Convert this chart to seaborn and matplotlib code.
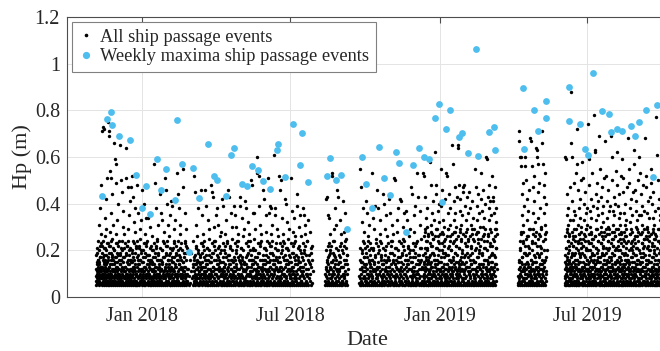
import matplotlib
matplotlib.use("Agg")
import matplotlib.pyplot as plt
from matplotlib.lines import Line2D
from matplotlib.ticker import FuncFormatter
import pandas as pd
import seaborn as sns

# ---------------- data ----------------
# Weekly maxima (blue)
max_dates = [
    "2017-11-12", "2017-11-18", "2017-11-23", "2017-11-25", "2017-12-03", "2017-12-17",
    "2017-12-24", "2017-12-31", "2018-01-06", "2018-01-10", "2018-01-19", "2018-01-24",
    "2018-01-30", "2018-02-10", "2018-02-12", "2018-02-19", "2018-02-27", "2018-03-04",
    "2018-03-12", "2018-03-22", "2018-03-30", "2018-04-02", "2018-04-13", "2018-04-20",
    "2018-04-23", "2018-05-03", "2018-05-09", "2018-05-16", "2018-05-23", "2018-05-29",
    "2018-06-06", "2018-06-15", "2018-06-17", "2018-06-25", "2018-07-05", "2018-07-14",
    "2018-07-16", "2018-07-23", "2018-08-16", "2018-08-19", "2018-08-26", "2018-09-02",
    "2018-09-09", "2018-09-28", "2018-10-03", "2018-10-10", "2018-10-18", "2018-10-25",
    "2018-11-01", "2018-11-08", "2018-11-12", "2018-11-21", "2018-11-29", "2018-12-06",
    "2018-12-13", "2018-12-19", "2018-12-26", "2018-12-31", "2019-01-04", "2019-01-09",
    "2019-01-14", "2019-01-25", "2019-01-28", "2019-02-04", "2019-02-15", "2019-02-17",
    "2019-03-02", "2019-03-08", "2019-03-10", "2019-04-13", "2019-04-14", "2019-04-26",
    "2019-05-02", "2019-05-11", "2019-05-11", "2019-06-08", "2019-06-09", "2019-06-22",
    "2019-06-28", "2019-07-02", "2019-07-08", "2019-07-19", "2019-07-27", "2019-07-30",
    "2019-08-07", "2019-08-13", "2019-08-24", "2019-08-28", "2019-09-03", "2019-09-11",
    "2019-09-20", "2019-09-24",
]
max_hp = [
    0.434, 0.764, 0.793, 0.739, 0.690, 0.673,
    0.522, 0.383, 0.476, 0.356, 0.590, 0.457,
    0.549, 0.416, 0.759, 0.570, 0.193, 0.554,
    0.426, 0.657, 0.520, 0.501, 0.433, 0.609,
    0.640, 0.484, 0.476, 0.561, 0.544, 0.498,
    0.464, 0.630, 0.656, 0.514, 0.740, 0.567,
    0.702, 0.494, 0.517, 0.597, 0.500, 0.523,
    0.290, 0.600, 0.484, 0.383, 0.644, 0.512,
    0.439, 0.623, 0.576, 0.279, 0.566, 0.639,
    0.601, 0.593, 0.767, 0.829, 0.407, 0.720,
    0.800, 0.684, 0.702, 0.616, 1.064, 0.603,
    0.707, 0.727, 0.630, 0.896, 0.634, 0.803,
    0.710, 0.839, 0.769, 0.754, 0.899, 0.743,
    0.634, 0.609, 0.961, 0.797, 0.783, 0.707,
    0.719, 0.710, 0.734, 0.689, 0.750, 0.800,
    0.513, 0.822,
]

# All ship passage events: one string per week (Hp in cm), per recording segment
seg1_start = "2017-11-05"
seg1_weeks = [
    "07 12 05 18 09 15 08 14 11 06 19 21 10 13 07 16 24 09 06 12 16 11 08 20 31 05 10 15 14 07 22 11 09 12 06 17 38 17 08 23 48 11 27 13 06 09 13 19",
    "06 10 08 22 13 05 71 10 09 17 07 24 12 73 06 16 11 21 08 18 15 05 72 14 09 26 07 21 13 34 10 16 06 18 42 12 08 11 29 20 05 14 09 15 51 07 23 11 12",
    "09 05 12 17 07 75 10 23 16 06 71 13 08 13 22 19 05 69 11 22 07 28 09 10 54 14 06 24 19 10 36 16 08 51 05 18 12 25 07 14 17 09 44 21 11 06 31 16",
    "07 11 05 12 09 66 14 20 08 20 06 15 12 59 10 11 17 07 05 17 57 13 09 23 27 06 49 13 11 15 08 19 33 05 23 22 10 07 40 10 12 06 18 24 09",
    "05 08 12 16 06 10 65 18 14 07 19 14 09 11 05 21 50 16 08 16 24 06 13 12 45 07 10 20 30 05 17 15 09 37 12 11 06 21 08 17 27 11",
    "08 06 11 23 05 13 09 13 64 07 18 19 10 06 51 22 15 08 22 10 05 12 47 24 09 29 07 16 14 06 35 18 11 20 08 14 05 41 10 21 16 07",
    "06 09 12 16 05 47 08 12 15 07 11 20 52 06 19 15 09 13 05 11 43 10 24 17 07 16 06 23 32 08 12 13 05 28 11 19 38 07 14 22 09 21",
    "05 10 07 10 13 06 48 24 09 17 05 16 11 08 36 18 14 06 22 14 09 12 05 21 29 07 16 16 10 06 25 12 08 19 11 20 33 07",
    "07 05 12 15 09 46 06 11 15 10 08 17 20 05 13 23 40 07 11 13 27 06 17 19 09 05 23 22 12 08 34 10 06 14 10 24 18",
    "06 09 05 16 11 07 34 18 13 08 18 14 06 10 05 21 30 15 09 16 12 07 22 12 05 16 08 20 26 11 06 15 14 07 20 11 09",
    "05 08 12 17 06 57 10 23 14 07 49 13 09 17 05 19 11 21 08 22 06 38 13 10 07 25 10 24 05 16 09 16 31 06 12 18 19 08",
    "07 10 05 14 13 08 44 21 06 11 16 16 09 05 36 12 12 07 20 20 06 14 33 15 08 10 24 11 05 17 09 17 28 06 11 23",
    "06 09 12 13 05 51 08 19 14 07 46 22 10 18 06 10 11 40 05 24 22 09 13 16 07 31 16 18 06 26 10 14 08 12 35 21 05 19",
    "05 08 11 16 06 41 13 12 09 07 17 20 05 39 10 15 12 06 21 11 08 15 05 17 29 11 07 23 24 09 14 13 06 33 10 19 18",
    "07 05 10 22 13 06 53 10 09 16 08 24 11 44 05 16 20 07 12 18 38 06 14 14 09 27 05 21 17 10 31 16 08 23 06 12 13",
    "06 10 05 20 08 12 55 15 07 15 09 11 47 06 11 17 19 05 13 23 08 36 10 13 24 07 16 19 05 29 09 22 12 21 06 10",
    "07 12 05 09 16 06 11 19 08 14",
    "05 09 13 24 07 52 06 16 11 17 08 18 45 10 05 14 22 14 07 21 31 09 12 16 06 26 15 12 08 38 05 20 19 10 13 15",
    "08 06 11 11 05 14 09 17 42 07 18 23 12 06 46 13 10 05 23 19 08 15 35 22 07 13 27 10 06 17 09 24 11 20",
    "06 10 05 16 13 08 46 18 07 16 11 14 39 05 09 21 21 06 14 16 08 33 12 12 05 25 10 20 18 07 29 15 09 15",
    "05 08 12 11 06 48 10 17 15 07 45 23 09 05 19 13 11 43 06 19 13 24 08 22 16 05 30 10 10 20 07 24 12 35",
    "07 05 10 16 14 06 38 18 09 12 17 14 05 08 31 21 11 22 06 16 13 26 09 12 15 07 19 20 10 05 28 15",
    "06 09 05 11 12 42 07 17 15 10 39 23 08 13 05 13 20 11 06 19 27 14 09 22 17 05 33 10 10 23 07 24 12",
    "05 08 11 16 06 46 13 18 09 07 18 14 05 43 10 21 14 06 22 16 08 36 12 12 05 25 16 20 09 30 07 15 11",
    "07 10 05 11 13 08 39 17 06 16 11 23 05 35 09 13 20 07 14 19 30 06 12 22 24 08 17 10 10 05 27 24",
    "06 09 12 16 05 43 08 18 15 07 39 14 10 05 21 21 13 06 34 16 09 17 08 12 26 05 11 20 29 07 14 15",
    "05 08 11 11 07 41 06 17 14 09 38 23 12 05 18 13 10 07 24 19 13 06 32 22 09 16 05 10 27 11 20 24",
    "07 05 10 16 13 06 50 18 09 16 08 14 48 11 05 21 36 14 07 16 20 09 36 12 06 12 25 20 08 17 05 15 29 10",
    "06 09 05 11 12 60 08 17 14 07 53 23 10 05 19 13 11 52 06 19 13 39 08 22 23 16 05 10 31 09 27 24 12 07",
    "05 08 11 16 06 50 13 18 07 10 46 14 05 16 09 21 42 12 06 16 21 14 08 12 35 05 18 20 11 28 07 15 24",
    "07 10 05 11 12 08 51 17 06 15 09 23 36 11 05 13 39 13 07 19 22 16 06 22 38 10 27 10 08 19 05 24 31 12 14 16",
    "06 09 05 18 11 61 07 14 14 10 38 21 12 05 35 16 08 17 06 12 23 13 09 20 29 05 16 15 11 26 07 11 20",
    "05 08 12 17 06 52 09 23 15 07 46 13 11 05 50 19 13 08 20 22 06 34 10 10 17 05 27 24 12 09 23 16 07",
    "07 10 05 18 13 06 42 14 09 16 08 21 40 11 05 16 21 07 32 12 14 06 25 20 10 18 05 15 12 29 08 11",
    "06 09 05 17 12 51 08 23 15 07 37 13 10 05 19 19 13 06 28 22 11 34 08 10 17 05 23 24 09 14 26 16 07",
    "05 08 11 18 07 39 06 14 14 10 44 21 05 17 12 16 08 30 06 12 22 15 09 20 35 05 13 15 26 07 19 11",
    "07 05 10 17 13 06 38 23 09 16 11 13 35 05 20 19 08 14 27 22 06 31 12 10 07 18 05 24 24 10",
    "06 09 05 16 12 33 08 18 15 07 28 14 10 05 19 21 13 06 22 16 11",
]

seg2_start = "2018-08-13"
seg2_weeks = [
    "07 10 05 12 13 06 42 20 09 16 08 15 43 11 05 11 35 14 07 17 22 06 34 23 10 18 05 13 27 12 08 19 20 15",
    "05 08 12 22 06 53 09 10 15 07 52 24 11 05 19 16 13 06 29 18 10 24 08 14 38 05 17 21 12 31 07 16",
    "06 09 05 12 11 46 07 20 14 10 43 15 05 18 12 11 08 33 06 17 22 15 09 23 27 05 13 13 20 07",
    "07 05 10 19 13 06 41 22 09 16 08 10 28 11 05 24 36 14 07 16 21 06 25 18 10 18 05 14 12",
]

seg3_start = "2018-09-24"
seg3_weeks = [
    "06 09 05 21 12 55 08 16 15 07 47 12 10 05 19 20 13 06 32 15 11 24 08 11 38 05 17 17 09 28 14 23 07 21",
    "05 08 11 13 07 41 06 19 14 10 36 22 05 17 12 10 08 26 06 24 20 15 09 16 31 05 13 18 23 07 11 14",
    "07 10 05 21 13 06 53 16 09 16 08 12 34 11 05 20 21 14 07 15 29 06 39 11 12 18 05 17 25 10 08 23",
    "06 09 05 13 12 46 08 19 15 07 38 22 10 05 20 10 13 06 27 24 11 33 09 16 17 05 23 18 14 07",
    "05 08 12 14 06 44 10 21 14 07 40 16 09 05 18 12 11 06 29 20 13 35 08 15 22 05 16 11 10 26 07 17",
    "07 05 10 23 13 06 42 13 09 16 08 19 36 11 05 22 24 14 07 10 31 06 19 24 12 27 05 16 15 09",
    "06 09 05 18 11 51 08 14 14 07 50 21 10 05 21 16 13 06 33 12 12 28 09 20 17 05 38 15 15 07 24 11",
    "05 08 12 17 06 42 10 23 15 07 41 13 09 05 18 19 11 06 30 22 14 25 08 10 36 05 20 24 12 07",
    "07 10 05 16 13 06 37 18 09 16 08 14 33 11 05 21 22 14 07 16 26 06 19 12 12 29 05 20 17 09",
    "06 09 05 15 12 47 08 11 15 07 44 17 10 05 20 23 13 06 35 13 11 28 09 19 39 05 17 22 14 07 23 10",
    "05 08 11 24 07 53 06 16 14 10 43 18 05 18 12 14 08 31 06 21 37 15 09 16 25 05 21 12 13 07",
]

seg4_start = "2018-12-11"
seg4_weeks = [
    "06 09 05 18 12 53 08 26 15 07 52 14 10 05 19 21 13 43 06 29 28 11 24 16 09 34 05 12 17 14 38 24 07 21 12 20 30 08 16 15 26 05 10 27",
    "05 08 11 11 07 59 06 17 14 10 58 23 05 18 12 28 48 08 31 13 06 22 15 19 36 09 27 22 05 13 41 25 07 19 11 10 25 33 06 18 16 09",
    "07 10 05 26 13 06 62 14 09 16 08 21 44 11 05 29 48 14 21 16 07 29 06 12 37 12 18 24 05 26 10 20 32 08 15 15 23 40 06 27 11",
    "06 09 05 11 12 55 08 17 15 07 39 23 10 05 20 28 13 46 06 13 27 11 33 19 09 17 24 22 05 30 14 25 07 42 12 10 19 08",
    "05 08 12 18 06 53 10 26 14 07 52 14 09 05 18 21 11 36 06 29 29 13 44 16 08 22 05 12 16 31 10 24 26 07 38 20 12 20 09 15",
    "07 05 10 27 13 06 65 11 09 16 08 17 57 11 05 23 41 14 24 28 07 33 06 13 47 12 28 19 05 19 36 22 10 15 30 25 08 22 11 10 43",
    "06 09 05 18 12 65 08 26 15 07 64 14 10 05 48 21 13 21 06 29 37 11 28 16 09 42 17 12 05 31 14 24 25 07 35 20 12 19 08 15 45",
    "05 08 11 27 07 47 06 11 14 10 48 17 05 18 12 23 39 08 26 28 06 33 15 13 22 09 43 19 05 29 13 22 36 07 17 25 11 24",
    "07 10 05 10 13 06 45 18 09 16 08 26 38 11 05 14 22 14 31 21 07 27 06 29 41 12 19 16 05 34 10 12 25 08 15 24 29",
    "06 09 05 20 12 55 08 15 15 07 47 27 10 05 21 11 13 39 06 17 28 11 33 23 09 44 17 28 05 25 14 13 36 07 20 19 12 30",
    "05 08 12 22 06 53 10 25 14 07 42 10 09 05 19 18 11 37 06 26 30 13 46 14 08 24 05 21 34 16 27 29 10 40 07 16 21",
    "07 05 10 12 13 06 60 24 09 16 08 20 59 11 05 15 43 14 26 27 07 38 06 11 33 12 48 17 05 22 29 23 10 41 08 28 18 35 15 13",
    "06 09 05 19 12 52 08 22 15 07 43 25 10 05 41 10 13 24 06 18 36 11 29 26 09 47 17 14 05 32 14 21 38 07 21 29 12 27",
]

seg5_start = "2019-04-07"
seg5_weeks = [
    "06 09 05 16 12 71 08 12 15 07 67 24 10 05 60 20 13 21 06 15 60 11 28 27 09 56 17 11 05 44 14 17 35 07 49 23 12 31 08 28 24 39 19",
    "05 08 11 13 07 60 06 19 14 10 56 22 05 18 12 25 50 08 26 10 06 42 15 18 33 09 22 26 05 37 13 14 46 07 29 21 11 19",
    "07 10 05 29 13 06 68 16 09 16 08 12 67 11 05 24 56 14 23 20 07 47 06 15 36 12 29 27 05 41 10 11 52 08 18 17 32 15 26 23",
    "06 09 05 28 12 64 08 13 15 07 63 19 10 05 60 22 13 57 06 25 45 11 34 10 09 27 17 18 05 49 14 26 38 07 22 14 12 30 19 21",
    "05 08 12 29 06 71 10 16 14 07 66 12 09 05 57 24 11 43 06 20 36 13 48 15 08 25 05 27 31 16 53 11 10 28 07 17 40 20",
]

seg6_start = "2019-06-03"
seg6_weeks = [
    "06 09 05 18 12 60 08 26 15 07 59 14 10 05 21 21 13 44 06 29 28 11 35 16 09 17 24 12 05 31 14 24 38 07 19 20 12 26 08 15 16 22 05 27 10 33 47 11 07 13",
    "05 08 11 17 07 88 06 23 14 10 66 28 05 60 12 13 18 08 41 19 06 26 15 22 33 09 22 25 05 37 13 10 29 07 49 18 11 19 24 26 06 16 09 14 35 12 53 21 05",
    "07 10 05 29 13 06 72 16 09 16 08 12 57 11 05 24 46 14 23 20 07 31 06 15 38 12 19 27 05 27 10 11 42 08 18 17 34 15 25 23 06 21 11 28 50 09 30 13",
    "06 09 05 19 12 58 08 22 15 07 51 25 10 05 22 10 13 40 06 18 27 11 33 26 09 17 45 14 05 24 14 21 36 07 20 29 12 29 08 16 16 38 05 12 11 31",
    "05 08 12 24 06 74 10 20 14 07 59 15 09 05 48 27 11 23 06 11 37 13 30 17 08 20 05 23 42 16 27 28 10 34 07 13 18 12 25 19 09 53 06 22 15 39",
    "07 05 10 25 13 06 78 10 09 16 08 18 63 11 05 26 62 14 26 14 07 44 06 21 33 12 21 29 05 38 10 16 29 08 19 12 49 15 24 24 06 35 11 20 17 41 09 15",
    "06 09 05 27 12 69 08 11 15 07 55 17 10 05 23 23 13 43 06 28 30 11 36 13 09 18 47 19 05 26 14 22 32 07 21 25 12 39 08 10 16 28 05 18 10 51",
    "05 08 11 26 07 67 06 14 14 10 52 21 05 19 12 29 41 08 27 16 06 34 15 12 24 09 46 24 05 30 13 20 37 07 21 15 11 17 29 27 06 39 09 11 13",
    "07 10 05 17 13 06 69 23 09 16 08 28 60 11 05 13 50 14 25 19 07 37 06 22 31 12 22 25 05 43 10 10 28 08 18 18 35 15 26 26 06 20 11 14 40 09 54 21",
    "06 09 05 29 12 62 08 16 15 07 48 12 10 05 22 24 13 39 06 20 29 11 34 15 09 17 44 27 05 25 14 11 31 07 20 17 12 36 08 23 16 27 05 28 11 52",
    "05 08 12 13 06 59 10 19 14 07 51 22 09 05 45 25 11 24 06 10 36 13 28 18 08 19 05 26 40 16 31 14 10 23 07 21 33 12 26 29 09 18 06 16 15 47",
    "07 05 10 12 13 06 68 24 09 16 08 20 55 11 05 15 49 14 27 27 07 38 06 11 32 12 21 17 05 42 10 23 29 08 17 28 35 15 24 13 06 20 11 19 45 09",
    "06 09 05 22 12 63 08 25 15 07 57 10 10 05 23 18 13 46 06 26 30 11 37 14 09 18 41 21 05 26 14 29 33 07 21 16 12 28 08 12 16 50 05 24 11 35",
    "05 08 11 20 07 60 06 15 14 10 53 27 05 19 12 11 44 08 27 17 06 35 15 23 23 09 39 28 05 31 13 13 48 07 21 19 11 17 29 22 06 37 09 25 25",
    "07 10 05 10 13 06 68 18 09 16 08 26 52 11 05 14 47 14 25 21 07 36 06 29 30 12 22 16 05 41 10 12 28 08 18 24 34 15 26 20 06 20 11 15 43 09",
    "06 09 05 27 12 55 08 11 15 07 49 17 10 05 22 23 13 40 06 28 29 11 34 13 09 17 45 19 05 25 14 22 31 07 20 25 12 37 08 10 16 27 05 18 11",
    "05 08 12 26 06 77 10 14 14 07 61 21 09 05 50 29 11 24 06 16 38 13 29 12 08 19 05 24 42 16 33 20 10 23 07 15 35 12 26 27 09 18 06 11 15",
]

x_ticks = ["2018-01-01", "2018-07-01", "2019-01-01", "2019-07-01"]
x_tick_labels = ["Jan 2018", "Jul 2018", "Jan 2019", "Jul 2019"]
y_ticks = [0, 0.2, 0.4, 0.6, 0.8, 1.0, 1.2]
legend_labels = ["All ship passage events", "Weekly maxima ship passage events"]

# ---------------- build tables ----------------
rows = []
for start, weeks in [(seg1_start, seg1_weeks), (seg2_start, seg2_weeks), (seg3_start, seg3_weeks),
                     (seg4_start, seg4_weeks), (seg5_start, seg5_weeks), (seg6_start, seg6_weeks)]:
    t0 = pd.Timestamp(start)
    for k, w in enumerate(weeks):
        vals = [int(v) / 100 for v in w.split()]
        n = len(vals)
        for i, v in enumerate(vals):
            rows.append((t0 + pd.Timedelta(days=7 * k + 7 * (i + 0.5) / n), v))
events = pd.DataFrame(rows, columns=["date", "hp"])
maxima = pd.DataFrame({"date": pd.to_datetime(max_dates), "hp": max_hp})

# ---------------- plot ----------------
sns.set_theme(style="white")
plt.rcParams["font.family"] = ["Liberation Serif", "DejaVu Serif"]

BLUE = "#4DBEEE"
TXT = "#262626"
fig = plt.figure(figsize=(6.6, 3.51), dpi=100)
ax = fig.add_axes([67 / 660, 54 / 351, (668 - 67) / 660, 280 / 351])

sns.scatterplot(data=events, x="date", y="hp", ax=ax, color="black", s=6,
                linewidth=0, legend=False, zorder=3)
sns.scatterplot(data=maxima, x="date", y="hp", ax=ax, color=BLUE, s=24,
                linewidth=0, legend=False, zorder=4)

ax.set_xlim(pd.Timestamp("2017-09-30 12:00"), pd.Timestamp("2019-10-08"))
ax.set_ylim(0, 1.2)
ax.set_xticks(pd.to_datetime(x_ticks))
ax.set_xticklabels(x_tick_labels)
ax.set_yticks(y_ticks)
ax.yaxis.set_major_formatter(FuncFormatter(lambda v, p: f"{v:g}"))

ax.grid(True, color="#e4e4e4", linewidth=0.7)
ax.set_axisbelow(True)
for sp in ax.spines.values():
    sp.set_color("#4d4d4d")
    sp.set_linewidth(0.8)
ax.tick_params(direction="in", top=True, right=True, length=4, width=0.8,
               color="#4d4d4d", labelsize=14.5, labelcolor=TXT)
ax.tick_params(axis="x", pad=7)
ax.tick_params(axis="y", pad=5)

ax.set_xlabel("Date", fontsize=16, color=TXT, labelpad=3.5)
ax.set_ylabel("Hp (m)", fontsize=16, color=TXT, labelpad=2)

handles = [
    Line2D([], [], ls="none", marker="o", ms=2.6, mfc="black", mec="none"),
    Line2D([], [], ls="none", marker="o", ms=5.2, mfc=BLUE, mec="none"),
]
leg = ax.legend(handles, legend_labels, loc="upper left", fontsize=13.2, frameon=True,
                fancybox=False, framealpha=1, edgecolor="#808080", borderpad=0.38,
                labelspacing=0.14, handlelength=0.8, handletextpad=0.38,
                borderaxespad=0.25)
leg.get_frame().set_linewidth(0.8)
for t in leg.get_texts():
    t.set_color(TXT)

fig.savefig("out.png", dpi=100)
